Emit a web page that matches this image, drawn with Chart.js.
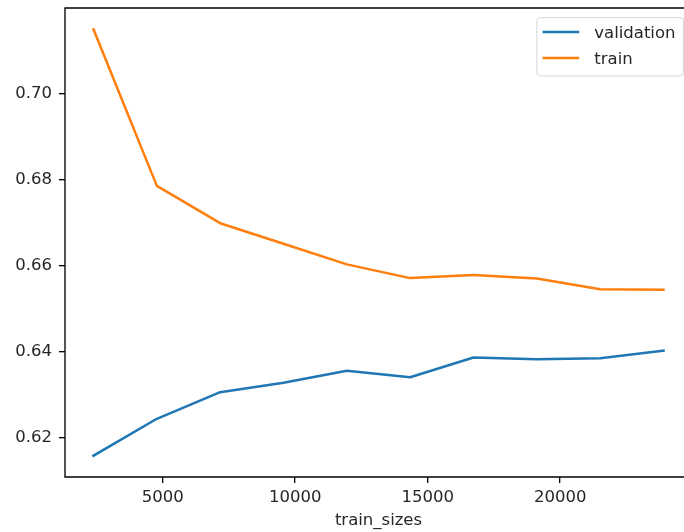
<!DOCTYPE html>
<html><head><meta charset="utf-8">
<script src="https://cdn.jsdelivr.net/npm/chart.js@4"></script>
<style>html,body{margin:0;padding:0;overflow:hidden;background:#fff}#wrap{width:684px;height:532px}</style>
</head><body><div id="wrap"><canvas id="c" width="684" height="532"></canvas></div>
<script>
const trainSizes = [2390, 4780, 7170, 9560, 11950, 14340, 16730, 19120, 21510, 23900];
const validationScores = [0.6157, 0.6243, 0.6305, 0.6327, 0.6355, 0.6340, 0.6386, 0.6382, 0.6384, 0.6402];
const trainScores = [0.7151, 0.6786, 0.6699, 0.6651, 0.6603, 0.6571, 0.6578, 0.6570, 0.6545, 0.6544];
const xTicks = [5000, 10000, 15000, 20000];
const yTicks = [0.62, 0.64, 0.66, 0.68, 0.70];
const seriesLabels = ['validation', 'train'];
const seriesColors = ['#1f77b4', '#ff7f0e'];
const xTitle = 'train_sizes';

const FS = 16.5;
const FONT = '"DejaVu Sans", sans-serif';
const TEXT = '#262626';

function margins(arr) {
  const lo = Math.min(...arr), hi = Math.max(...arr), r = hi - lo;
  return [lo - 0.05 * r, hi + 0.05 * r];
}
// full matplotlib-style axes spans x from px 65 to px 692; the picture is cropped at 684
const AX_LEFT = 65, AX_RIGHT_FULL = 692, CANVAS_W = 684;
const [xMin, xMaxFull] = margins(trainSizes);
const xMax = xMin + (CANVAS_W - AX_LEFT) / (AX_RIGHT_FULL - AX_LEFT) * (xMaxFull - xMin);
const [yMin, yMax] = margins(validationScores.concat(trainScores));

const toPts = (ys) => trainSizes.map((x, i) => ({x: x, y: ys[i]}));

function zeroPad(s) { s.paddingTop = 0; s.paddingBottom = 0; s.paddingLeft = 0; s.paddingRight = 0; }

const mplPlugin = {
  id: 'mpl',
  afterDatasetsDraw(chart) {
    const ctx = chart.ctx, ca = chart.chartArea;
    const fullRight = ca.left + (AX_RIGHT_FULL - AX_LEFT);
    ctx.save();
    // spines (right spine falls outside the cropped picture)
    ctx.strokeStyle = '#000';
    ctx.lineWidth = 1.33;
    ctx.beginPath();
    ctx.moveTo(fullRight, ca.top);
    ctx.lineTo(ca.left, ca.top);
    ctx.lineTo(ca.left, ca.bottom);
    ctx.lineTo(fullRight, ca.bottom);
    ctx.stroke();
    // x axis title centred on the full axes
    ctx.font = FS + 'px ' + FONT;
    ctx.fillStyle = TEXT;
    ctx.textAlign = 'center';
    ctx.textBaseline = 'middle';
    ctx.fillText(xTitle, (ca.left + fullRight) / 2, chart.height - 10.9);
    // legend
    const textW = Math.max(...seriesLabels.map(l => ctx.measureText(l).width));
    const handleOff = 5.7, handleLen = 36.7, textOff = 57.4, rightPad = 8;
    const w = textOff + textW + rightPad;
    const h = 58.4;
    const right = fullRight - 8.5;
    const left = right - w;
    const top = ca.top + 9.6;
    const r = 3.5;
    ctx.beginPath();
    ctx.moveTo(left + r, top);
    ctx.lineTo(right - r, top);
    ctx.quadraticCurveTo(right, top, right, top + r);
    ctx.lineTo(right, top + h - r);
    ctx.quadraticCurveTo(right, top + h, right - r, top + h);
    ctx.lineTo(left + r, top + h);
    ctx.quadraticCurveTo(left, top + h, left, top + h - r);
    ctx.lineTo(left, top + r);
    ctx.quadraticCurveTo(left, top, left + r, top);
    ctx.closePath();
    ctx.fillStyle = 'rgba(255,255,255,0.8)';
    ctx.fill();
    ctx.strokeStyle = 'rgba(204,204,204,0.8)';
    ctx.lineWidth = 1;
    ctx.stroke();
    chart.data.datasets.forEach((ds, i) => {
      const yy = top + 14.5 + i * 26;
      ctx.beginPath();
      ctx.strokeStyle = ds.borderColor;
      ctx.lineWidth = 2.5;
      ctx.lineCap = 'butt';
      ctx.moveTo(left + handleOff, yy);
      ctx.lineTo(left + handleOff + handleLen, yy);
      ctx.stroke();
      ctx.fillStyle = TEXT;
      ctx.textBaseline = 'alphabetic';
      ctx.textAlign = 'left';
      ctx.fillText(ds.label, left + textOff, yy + 6.3);
    });
    ctx.restore();
  }
};

new Chart(document.getElementById('c'), {
  type: 'line',
  data: {
    datasets: [
      {label: seriesLabels[0], data: toPts(validationScores), borderColor: seriesColors[0], backgroundColor: seriesColors[0]},
      {label: seriesLabels[1], data: toPts(trainScores), borderColor: seriesColors[1], backgroundColor: seriesColors[1]}
    ]
  },
  options: {
    responsive: false,
    animation: false,
    devicePixelRatio: 1,
    layout: {padding: {top: 8, right: 0, left: 0, bottom: 0}},
    elements: {
      point: {radius: 0, hoverRadius: 0},
      line: {borderWidth: 2.5, tension: 0, borderJoinStyle: 'round', borderCapStyle: 'square', fill: false}
    },
    plugins: {legend: {display: false}, tooltip: {enabled: false}},
    scales: {
      x: {
        type: 'linear', min: xMin, max: xMax,
        afterFit(s) { s.height = 55; zeroPad(s); },
        afterBuildTicks(s) { s.ticks = xTicks.map(v => ({value: v})); },
        grid: {drawOnChartArea: false, drawTicks: true, tickLength: 6, tickColor: '#000', lineWidth: 1.33},
        border: {display: false},
        ticks: {color: TEXT, font: {family: FONT, size: FS}, padding: 5, maxRotation: 0, callback: v => String(v)},
        title: {display: false}
      },
      y: {
        type: 'linear', min: yMin, max: yMax,
        afterFit(s) { s.width = 65; zeroPad(s); },
        afterBuildTicks(s) { s.ticks = yTicks.map(v => ({value: v})); },
        grid: {drawOnChartArea: false, drawTicks: true, tickLength: 6, tickColor: '#000', lineWidth: 1.33},
        border: {display: false},
        ticks: {color: TEXT, font: {family: FONT, size: FS}, padding: 7, callback: v => v.toFixed(2)}
      }
    }
  },
  plugins: [mplPlugin]
});
</script>
</body></html>
